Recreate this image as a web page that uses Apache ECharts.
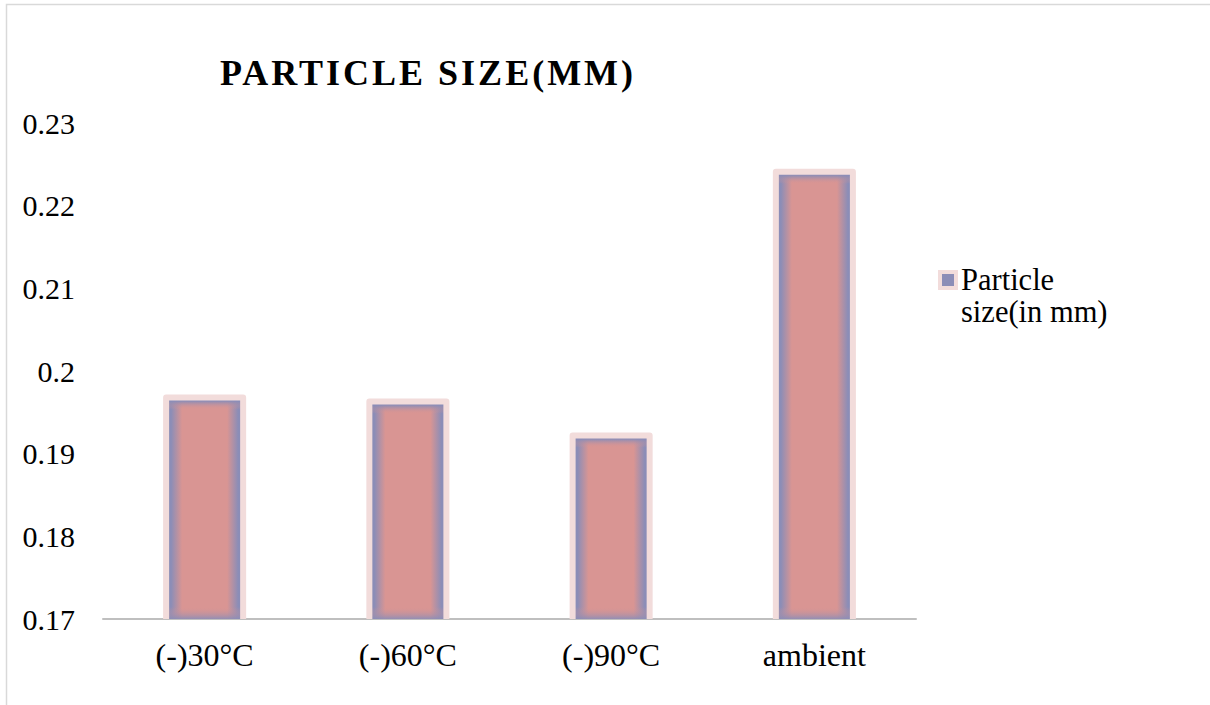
<!DOCTYPE html>
<html><head><meta charset="utf-8">
<script src="https://cdn.jsdelivr.net/npm/echarts@6/dist/echarts.min.js"></script>
<style>
html,body{margin:0;padding:0;background:#fff;}
#chart{width:1210px;height:705px;}
#chart text[style*="bold"], #chart text[font-weight="bold"]{letter-spacing:3px;}
</style></head><body><div id="chart"></div>
<script>
const chartTitle = 'PARTICLE SIZE(MM)';
const seriesName = 'Particle size(in mm)';
const categories = ['(-)30°C', '(-)60°C', '(-)90°C', 'ambient'];
const values = [0.1968, 0.1963, 0.1922, 0.2241];
const yMin = 0.17, yMax = 0.23, yStep = 0.01;

const FONT = "'Liberation Serif', 'Times New Roman', serif";
const PINK = '#d99593', PURPLE = '#8b8db7', RIM = '#f2dcdb';

function renderBar(params, api) {
  const i = api.value(0), v = api.value(1);
  const top = api.coord([i, v]);
  const base = api.coord([i, yMin]);
  const w = api.size([1, 0])[0] * 0.379;
  const x = top[0] - w / 2, y = top[1], h = base[1] - top[1];
  const a = 5 / w, b = 16 / w;
  const va = 4 / h, vb = Math.min(0.45, 12 / h);
  return {
    type: 'group',
    children: [
      { type: 'rect', shape: { x: x, y: y, width: w, height: h },
        style: { fill: { type: 'linear', x: 0, y: 0, x2: 1, y2: 0, colorStops: [
          { offset: 0, color: PURPLE }, { offset: a, color: PURPLE },
          { offset: b, color: PINK }, { offset: 1 - b, color: PINK },
          { offset: 1 - a, color: PURPLE }, { offset: 1, color: PURPLE }] } } },
      { type: 'rect', shape: { x: x, y: y, width: w, height: h }, silent: true,
        style: { fill: { type: 'linear', x: 0, y: 0, x2: 0, y2: 1, colorStops: [
          { offset: 0, color: 'rgba(139,141,183,1)' }, { offset: va, color: 'rgba(139,141,183,0.9)' },
          { offset: vb, color: 'rgba(217,149,147,0)' }, { offset: 1 - vb, color: 'rgba(217,149,147,0)' },
          { offset: 1, color: 'rgba(139,141,183,0.9)' }] } } },
      { type: 'polyline', silent: true,
        shape: { points: [[x, base[1]], [x, y], [x + w, y], [x + w, base[1]]] },
        style: { stroke: RIM, lineWidth: 6, fill: null, lineJoin: 'round' } }
    ]
  };
}

const chart = echarts.init(document.getElementById('chart'), null, { renderer: 'svg' });
chart.setOption({
  animation: false,
  backgroundColor: '#fff',
  graphic: [{ type: 'rect', left: 4, top: 2, silent: true,
    shape: { width: 1400, height: 900 }, style: { fill: null, stroke: '#d9d9d9', lineWidth: 1.5 } }],
  title: {
    text: chartTitle, left: 215, top: 50,
    textStyle: { fontFamily: FONT, fontSize: 36, fontWeight: 'bold', color: '#000' }
  },
  legend: {
    left: 938, top: 232, padding: 0, orient: 'vertical',
    itemWidth: 16, itemHeight: 16,
    data: [{ name: seriesName, icon: 'rect',
      itemStyle: { color: PURPLE, borderColor: RIM, borderWidth: 4 } }],
    formatter: function (name) { return '\n' + name.replace(' ', '\n'); },
    textStyle: { fontFamily: FONT, fontSize: 30.5, color: '#000', lineHeight: 32 }
  },
  grid: { left: 103, right: 294, top: 123, bottom: 86 },
  xAxis: {
    type: 'category', data: categories,
    axisLine: { lineStyle: { color: '#bfbfbf', width: 2 } },
    axisTick: { length: 8, lineStyle: { color: '#bfbfbf', width: 2 } },
    axisLabel: { fontFamily: FONT, fontSize: 32, color: '#000', margin: 20 }
  },
  yAxis: {
    type: 'value', min: yMin, max: yMax, interval: yStep,
    axisLine: { show: false }, axisTick: { show: false }, splitLine: { show: false },
    axisLabel: { fontFamily: FONT, fontSize: 30, color: '#000', margin: 28 }
  },
  series: [{
    name: seriesName, type: 'custom', renderItem: renderBar,
    itemStyle: { color: PURPLE },
    encode: { x: 0, y: 1 },
    data: categories.map(function (c, i) { return [i, values[i]]; })
  }]
});
</script></body></html>
